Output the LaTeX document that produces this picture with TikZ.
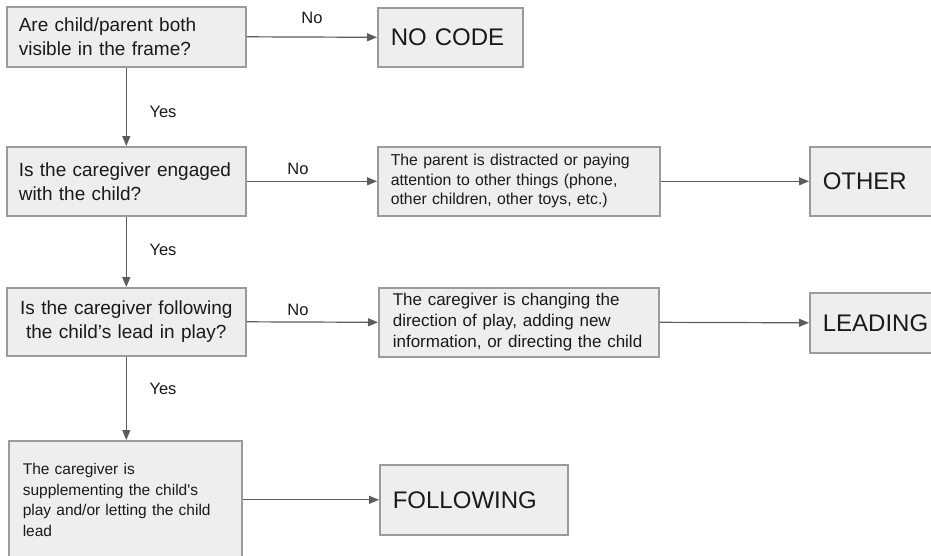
\documentclass[tikz,border=0pt]{standalone}
\usepackage{fontspec}
\setmainfont{Liberation Sans}[Ligatures=TeXOff]
\usetikzlibrary{arrows.meta}
\definecolor{boxfill}{HTML}{EEEEEE}
\definecolor{boxline}{HTML}{9B9B9B}
\definecolor{arrcol}{HTML}{5C5C5C}
\definecolor{txt}{HTML}{1A1A1A}
\begin{document}
\begin{tikzpicture}[x=1pt,y=-1pt,
  box/.style={draw=boxline, fill=boxfill, line width=1.6pt, anchor=north west,
    inner ysep=0pt, text=txt, align=left},
  qbox/.style={box, inner xsep=12pt, text width=215pt, font=\fontsize{19}{24}\selectfont},
  codebox/.style={box, inner xsep=13pt, font=\fontsize{24}{28}\selectfont},
  conn/.style={draw=arrcol, line width=1.2pt, -{Triangle[length=10pt,width=8pt]}},
  lbl/.style={text=txt, font=\fontsize{16.5}{19}\selectfont, inner sep=0pt}]
\fill[white] (0,0) rectangle (931,555);
\useasboundingbox (0,0) rectangle (931,555);
% boxes
\node[qbox, minimum height=60pt] (A) at (6,6) {Are child/parent both\\visible in the frame?};
\node[codebox, text width=119pt, minimum height=59pt] (NC) at (377,7) {NO CODE};
\node[qbox, minimum height=69pt] (B) at (6,146) {Is the caregiver engaged\\with the child?};
\node[box, inner xsep=13pt, text width=256pt, minimum height=69pt,
  font=\fontsize{15.8}{19.5}\selectfont] (B2) at (377,146)
  {The parent is distracted or paying\\attention to other things (phone,\\other children, other toys, etc.)};
\node[codebox, text width=104pt, minimum height=69pt] (OT) at (809,146) {OTHER};
\node[qbox, align=center, minimum height=68pt] (C) at (6,287) {Is the caregiver following\\the child’s lead in play?};
\node[box, inner xsep=14pt, text width=252pt, minimum height=69pt,
  font=\fontsize{17}{21}\selectfont] (C2) at (378,287)
  {The caregiver is changing the\\direction of play, adding new\\information, or directing the child};
\node[codebox, text width=110pt, minimum height=60pt] (LE) at (809,292) {LEADING};
\node[box, inner xsep=14pt, text width=205pt, minimum height=118pt,
  font=\fontsize{15.5}{20.7}\selectfont] (D) at (8,440)
  {The caregiver is\\supplementing the child's\\play and/or letting the child\\lead};
\node[codebox, text width=162pt, minimum height=70pt] (FO) at (379,464) {FOLLOWING};
% connectors
\draw[conn] (A.east) -- (NC.west);
\draw[conn] (B.east) -- (B2.west);
\draw[conn] (B2.east) -- (OT.west);
\draw[conn] (C.east) -- (C2.west);
\draw[conn] (C2.east) -- (LE.west);
\draw[conn] (D.east) -- (FO.west);
\draw[conn] (A.south) -- (A.south |- B.north);
\draw[conn] (B.south) -- (B.south |- C.north);
\draw[conn] (C.south) -- (C.south |- D.north);
% labels
\node[lbl] (n1) at (312,18) {No};
\node[lbl] (n2) at (298,169) {No};
\node[lbl] (n3) at (298,310) {No};
\node[lbl] (y1) at (163,112) {Yes};
\node[lbl] (y2) at (163,250) {Yes};
\node[lbl] (y3) at (163,389) {Yes};
\end{tikzpicture}
\end{document}
